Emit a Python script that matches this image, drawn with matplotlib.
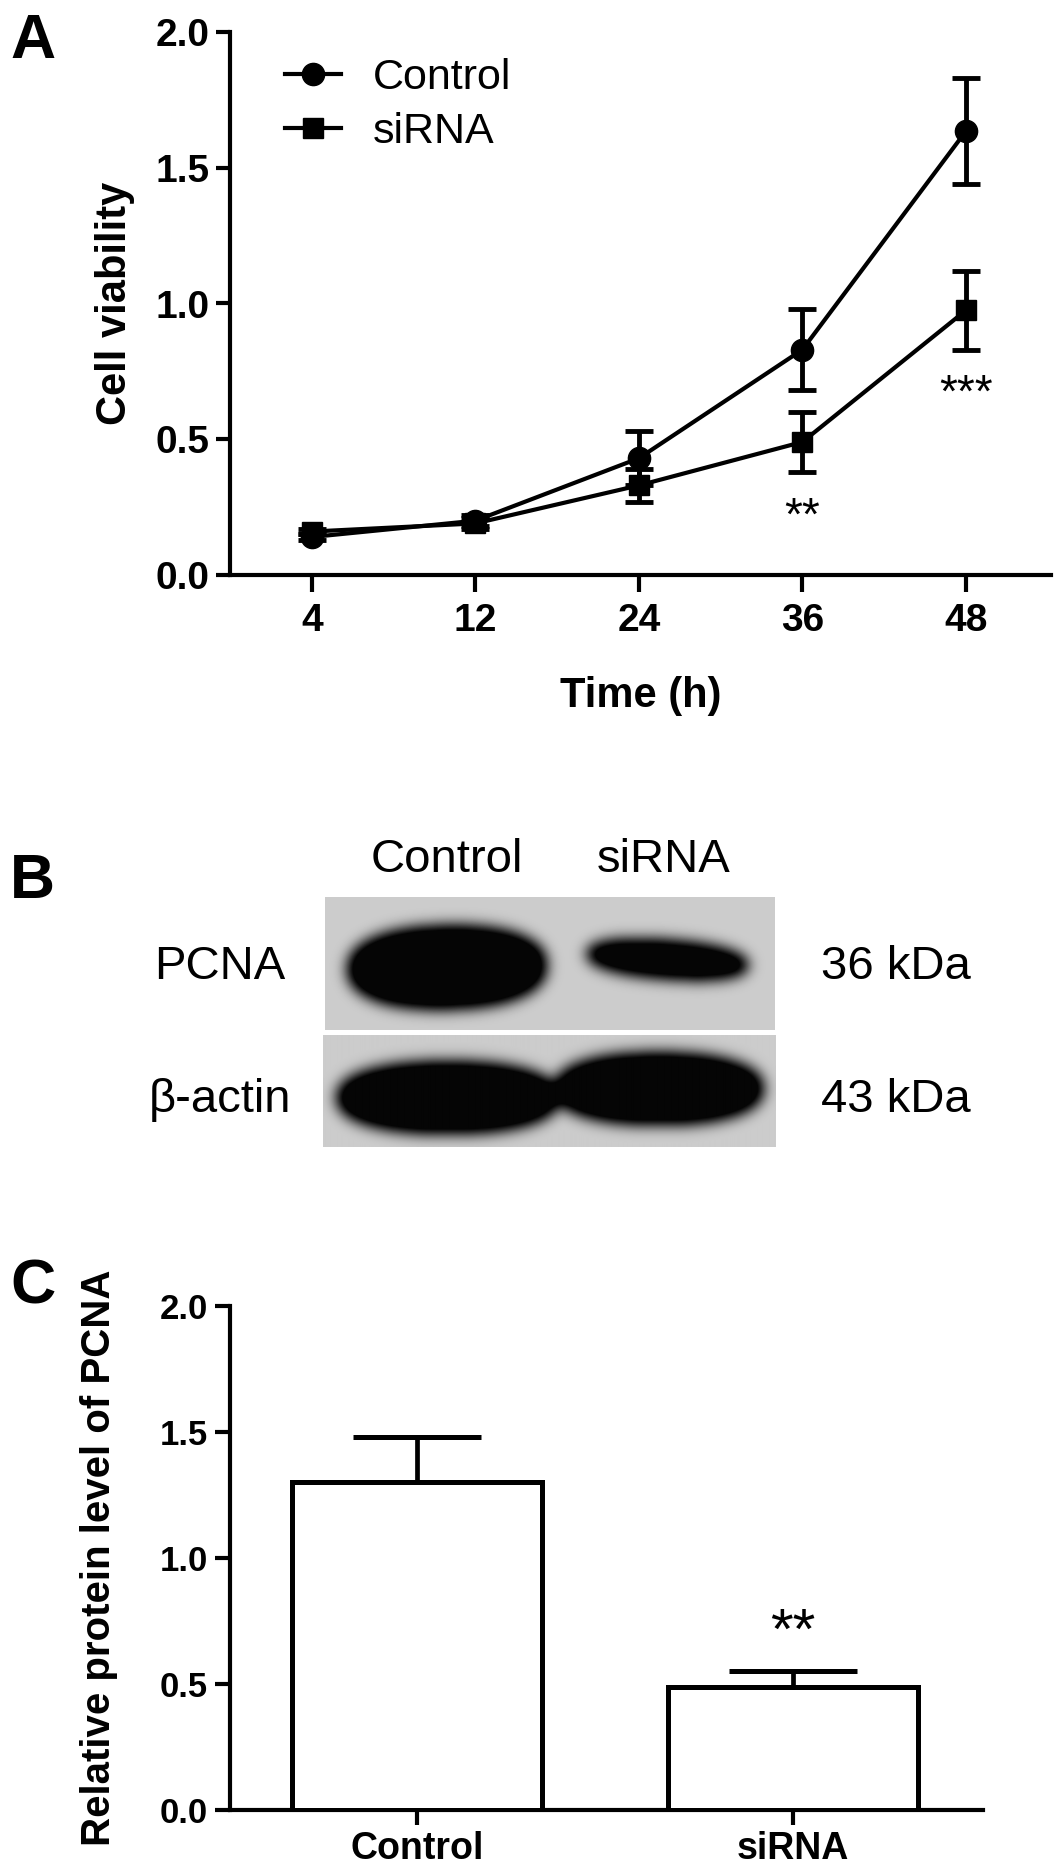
import numpy as np
import matplotlib
matplotlib.use("Agg")
import matplotlib.pyplot as plt

plt.rcParams['font.family'] = ['Liberation Sans', 'DejaVu Sans']

# ---- panel A data: cell viability over time
time_labels = ['4', '12', '24', '36', '48']
control_mean = [0.14, 0.20, 0.43, 0.83, 1.635]
control_err = [0.01, 0.02, 0.10, 0.15, 0.195]
sirna_mean = [0.16, 0.19, 0.33, 0.49, 0.975]
sirna_err = [0.01, 0.02, 0.06, 0.11, 0.145]
sig_a = ['', '', '', '**', '***']
sig_a_y = [0, 0, 0, 0.21, 0.665]

# ---- panel B: western blot (lanes, bands)
lanes = ['Control', 'siRNA']
blot_rows = ['PCNA', 'β-actin']
blot_kda = ['36 kDa', '43 kDa']
# band geometry in lane units (x) and fraction of strip height (y)
pcna_x = [0.0, 0.99]
pcna_w = [0.90, 0.73]
pcna_y = [0.53, 0.47]
pcna_h = [0.64, 0.30]
pcna_tilt = [-0.03, 0.12]
actin_x = [0.01, 0.95]
actin_w = [1.0, 0.94]
actin_y = [0.56, 0.48]
actin_h = [0.66, 0.66]
actin_tilt = [0.0, 0.0]

# ---- panel C data: relative PCNA level
bar_labels = ['Control', 'siRNA']
bar_mean = [1.30, 0.49]
bar_err = [0.18, 0.06]
sig_c = ['', '**']
sig_c_y = [0, 0.70]

W, H = 1063, 1875
fig = plt.figure(figsize=(W / 100, H / 100), dpi=100)


def fx(px):
    return px / W


def fy(py):
    return 1 - py / H


# ================= panel A =================
axA = fig.add_axes([fx(230), fy(575), fx(1051 - 230), (575 - 32) / H])
xpos = np.arange(len(time_labels))
axA.errorbar(xpos, control_mean, yerr=control_err, fmt='none', ecolor='black',
             elinewidth=3.5, capsize=10, capthick=3.5, zorder=3)
axA.errorbar(xpos, sirna_mean, yerr=sirna_err, fmt='none', ecolor='black',
             elinewidth=3.5, capsize=10, capthick=3.5, zorder=3)
axA.plot(xpos, control_mean, color='black', lw=3, marker='o', ms=16,
         label='Control', zorder=4)
axA.plot(xpos, sirna_mean, color='black', lw=3, marker='s', ms=15,
         label='siRNA', zorder=4)
for i, s in enumerate(sig_a):
    if s:
        axA.text(xpos[i], sig_a_y[i], s, ha='center', va='center', fontsize=33)

axA.set_xlim(-0.5, 4.52)
axA.set_ylim(0, 2.0)
axA.set_xticks(xpos)
axA.set_xticklabels(time_labels)
axA.set_yticks([0, 0.5, 1.0, 1.5, 2.0])
axA.set_yticklabels(['0.0', '0.5', '1.0', '1.5', '2.0'])
for s in ['top', 'right']:
    axA.spines[s].set_visible(False)
for s in ['left', 'bottom']:
    axA.spines[s].set_linewidth(3)
axA.tick_params(axis='both', width=3, direction='out')
axA.tick_params(axis='y', length=10, pad=5, labelsize=28)
axA.tick_params(axis='x', length=12, pad=8, labelsize=28)
for lab in axA.get_xticklabels() + axA.get_yticklabels():
    lab.set_fontweight('bold')
axA.set_ylabel('Cell viability', fontsize=30, fontweight='bold')
axA.yaxis.set_label_coords(-0.116, 0.5)
axA.set_xlabel('Time (h)', fontsize=30, fontweight='bold')
axA.xaxis.set_label_coords(0.5, -0.186)
axA.legend(loc='upper left', bbox_to_anchor=(0.067, 0.952), frameon=False,
           fontsize=31, handlelength=1.3, handletextpad=0.75, labelspacing=0.33,
           borderpad=0, borderaxespad=0)
fig.text(fx(10), fy(12), 'A', fontsize=45, fontweight='bold', ha='left', va='top')

# ================= panel B =================
lane_x0 = (325 - 447) / 223
lane_x1 = (775 - 447) / 223


def gauss_blur(img, sigma):
    r = int(3 * sigma)
    k = np.exp(-0.5 * (np.arange(-r, r + 1) / sigma) ** 2)
    k = k / k.sum()
    pad = np.pad(img, r, mode='edge')
    out = np.apply_along_axis(lambda v: np.convolve(v, k, mode='valid'), 1, pad)
    out = np.apply_along_axis(lambda v: np.convolve(v, k, mode='valid'), 0, out)
    return out


def draw_strip(ax, npix_y, bx, bw, by, bh, btilt, bg=0.80):
    X, Y = np.meshgrid(np.linspace(lane_x0, lane_x1, 450), np.linspace(0, 1, npix_y))
    mask = np.zeros_like(X)
    for xc, w, yc, h, t in zip(bx, bw, by, bh, btilt):
        yy = yc + t * (X - xc)
        d = np.abs((X - xc) / (w / 2)) ** 2.3 + np.abs((Y - yy) / (h / 2)) ** 2.3
        mask = np.maximum(mask, (d <= 1).astype(float))
    dark = np.clip(gauss_blur(mask, 7) * 1.3, 0, 1)
    img = bg * (1 - dark) + 0.02 * dark
    ax.imshow(img, cmap='gray', vmin=0, vmax=1, aspect='auto',
              extent=[lane_x0, lane_x1, 1, 0], interpolation='bilinear')
    ax.set_xlim(lane_x0, lane_x1)
    ax.set_ylim(1, 0)
    ax.axis('off')


axB1 = fig.add_axes([fx(325), fy(1030), fx(450), 133 / H])
draw_strip(axB1, 133, pcna_x, pcna_w, pcna_y, pcna_h, pcna_tilt)
axB2 = fig.add_axes([fx(323), fy(1147), fx(452), 112 / H])
draw_strip(axB2, 112, actin_x, actin_w, actin_y, actin_h, actin_tilt)

lane_px = [447, 664]
for lbl, px in zip(lanes, lane_px):
    fig.text(fx(px), fy(860), lbl, fontsize=34, ha='center', va='center')
row_py = [967, 1100]
for lbl, kda, py in zip(blot_rows, blot_kda, row_py):
    fig.text(fx(220), fy(py), lbl, fontsize=34, ha='center', va='center')
    fig.text(fx(896), fy(py), kda, fontsize=34, ha='center', va='center')
fig.text(fx(10), fy(852), 'B', fontsize=45, fontweight='bold', ha='left', va='top')

# ================= panel C =================
axC = fig.add_axes([fx(230), fy(1810), fx(983 - 230), (1810 - 1306) / H])
bpos = np.arange(len(bar_labels))
axC.bar(bpos, bar_mean, width=0.665, color='white', edgecolor='black', linewidth=3.6,
        zorder=3)
axC.errorbar(bpos, bar_mean, yerr=[[0, 0], bar_err], fmt='none', ecolor='black',
             elinewidth=3.4, capsize=46, capthick=3.6, zorder=2)
for i, s in enumerate(sig_c):
    if s:
        axC.text(bpos[i], sig_c_y[i], s, ha='center', va='center', fontsize=42)
axC.set_xlim(-0.497, 1.505)
axC.set_ylim(0, 2.0)
axC.set_xticks(bpos)
axC.set_xticklabels(bar_labels)
axC.set_yticks([0, 0.5, 1.0, 1.5, 2.0])
axC.set_yticklabels(['0.0', '0.5', '1.0', '1.5', '2.0'])
for s in ['top', 'right']:
    axC.spines[s].set_visible(False)
for s in ['left', 'bottom']:
    axC.spines[s].set_linewidth(3)
axC.tick_params(axis='both', width=3, direction='out')
axC.tick_params(axis='y', length=11, pad=5, labelsize=25)
axC.tick_params(axis='x', length=11, pad=4, labelsize=27)
for lab in axC.get_xticklabels() + axC.get_yticklabels():
    lab.set_fontweight('bold')
axC.set_ylabel('Relative protein level of PCNA', fontsize=29, fontweight='bold')
axC.yaxis.set_label_coords(-0.149, 0.5)
fig.text(fx(10), fy(1258), 'C', fontsize=45, fontweight='bold', ha='left', va='top')

fig.savefig('out.png', dpi=100)
